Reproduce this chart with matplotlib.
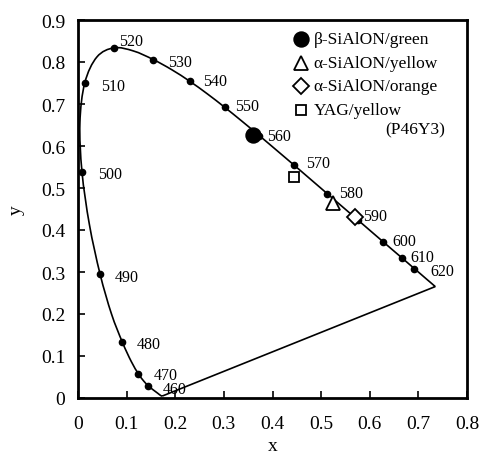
import matplotlib
matplotlib.use("Agg")
import matplotlib.pyplot as plt
import numpy as np
from matplotlib.path import Path
from matplotlib.patches import PathPatch

plt.rcParams["font.family"] = ["Liberation Serif", "DejaVu Serif"]

# CIE 1931 spectral locus (5 nm steps, 380-700 nm)
locus_nm = list(range(380, 705, 5))
locus_x = [0.1741, 0.1740, 0.1738, 0.1736, 0.1733, 0.1730, 0.1726, 0.1721, 0.1714, 0.1703,
           0.1689, 0.1669, 0.1644, 0.1611, 0.1566, 0.1510, 0.1440, 0.1355, 0.1241, 0.1096,
           0.0913, 0.0687, 0.0454, 0.0235, 0.0082, 0.0039, 0.0139, 0.0389, 0.0743, 0.1142,
           0.1547, 0.1929, 0.2296, 0.2658, 0.3016, 0.3373, 0.3731, 0.4087, 0.4441, 0.4788,
           0.5125, 0.5448, 0.5752, 0.6029, 0.6270, 0.6482, 0.6658, 0.6801, 0.6915, 0.7006,
           0.7079, 0.7140, 0.7190, 0.7230, 0.7260, 0.7283, 0.7300, 0.7311, 0.7320, 0.7327,
           0.7334, 0.7340, 0.7344, 0.7346, 0.7347]
locus_y = [0.0050, 0.0050, 0.0049, 0.0049, 0.0048, 0.0048, 0.0048, 0.0048, 0.0051, 0.0058,
           0.0069, 0.0086, 0.0109, 0.0138, 0.0177, 0.0227, 0.0297, 0.0399, 0.0578, 0.0868,
           0.1327, 0.2007, 0.2950, 0.4127, 0.5384, 0.6548, 0.7502, 0.8120, 0.8338, 0.8262,
           0.8059, 0.7816, 0.7543, 0.7243, 0.6923, 0.6589, 0.6245, 0.5896, 0.5547, 0.5202,
           0.4866, 0.4544, 0.4242, 0.3965, 0.3725, 0.3514, 0.3340, 0.3197, 0.3083, 0.2993,
           0.2920, 0.2859, 0.2809, 0.2770, 0.2740, 0.2717, 0.2700, 0.2689, 0.2680, 0.2673,
           0.2666, 0.2660, 0.2656, 0.2654, 0.2653]

marked_nm = [460, 470, 480, 490, 500, 510, 520, 530, 540, 550, 560, 570, 580, 590, 600, 610, 620]
# label offsets in pixels (dx, dy)
label_offsets = [(15, -3), (15, -1), (14, -2), (15, -3), (16, -2), (16, -3), (5, 7), (15, -2),
                 (13, 0), (10, 1), (8, 0), (12, 2), (12, 1), (5, 4), (9, 1), (9, 1), (16, -2)]

phosphor_labels = ["β-SiAlON/green", "α-SiAlON/yellow", "α-SiAlON/orange", "YAG/yellow"]
phosphor_x = [0.359, 0.525, 0.570, 0.445]
phosphor_y = [0.626, 0.465, 0.430, 0.527]


def smooth_path(xs, ys):
    # smoothed line through the points (Catmull-Rom as cubic Bezier), closed by a straight line
    pts = np.column_stack([xs, ys])
    n = len(pts)
    verts = [pts[0]]
    codes = [Path.MOVETO]
    for i in range(n - 1):
        p0 = pts[max(i - 1, 0)]
        p1 = pts[i]
        p2 = pts[i + 1]
        p3 = pts[min(i + 2, n - 1)]
        verts += [p1 + (p2 - p0) / 6, p2 - (p3 - p1) / 6, p2]
        codes += [Path.CURVE4] * 3
    verts.append(pts[0])
    codes.append(Path.LINETO)
    return Path(verts, codes)


fig = plt.figure(figsize=(4.79, 4.56), dpi=100)
ax = fig.add_axes([78 / 479, 1 - 399 / 456, 389 / 479, 378 / 456])

ax.add_patch(PathPatch(smooth_path(locus_x, locus_y), fill=False, ec="black", lw=1.2, zorder=2))

for nm, (dx, dy) in zip(marked_nm, label_offsets):
    i = locus_nm.index(nm)
    ax.plot(locus_x[i], locus_y[i], "o", color="black", ms=4.5, zorder=3)
    ax.annotate(str(nm), (locus_x[i], locus_y[i]), xytext=(dx, dy),
                textcoords="offset pixels", ha="left", va="center", fontsize=11.5)

styles = [dict(marker="o", ms=10.5, mfc="black"),
          dict(marker="^", ms=10.5, mfc="white"),
          dict(marker="D", ms=8, mfc="white"),
          dict(marker="s", ms=6.5, mfc="white")]
for px, py, st in zip(phosphor_x, phosphor_y, styles):
    ax.plot(px, py, linestyle="none", mec="black", mew=1.3, zorder=4, **st)

# legend, laid out by hand
leg_rows = [0.950, 0.886, 0.825, 0.762]
for lab, ly, st in zip(phosphor_labels, leg_rows, styles):
    ax.plot(0.572, ly, linestyle="none", mec="black", mew=1.3, transform=ax.transAxes,
            clip_on=False, **st)
    ax.text(0.606, ly, lab, transform=ax.transAxes, ha="left", va="center", fontsize=12.5)
ax.text(0.945, 0.710, "(P46Y3)", transform=ax.transAxes, ha="right", va="center", fontsize=12.5)

ax.set_xlim(0, 0.8)
ax.set_ylim(0, 0.9)
ax.set_xticks([0, 0.1, 0.2, 0.3, 0.4, 0.5, 0.6, 0.7, 0.8])
ax.set_xticklabels(["0", "0.1", "0.2", "0.3", "0.4", "0.5", "0.6", "0.7", "0.8"])
ax.set_yticks([0, 0.1, 0.2, 0.3, 0.4, 0.5, 0.6, 0.7, 0.8, 0.9])
ax.set_yticklabels(["0", "0.1", "0.2", "0.3", "0.4", "0.5", "0.6", "0.7", "0.8", "0.9"])
ax.tick_params(axis="x", direction="in", length=5, width=1.2, pad=12, labelsize=14)
ax.tick_params(axis="y", direction="in", length=5, width=1.2, pad=9, labelsize=14)
for s in ax.spines.values():
    s.set_linewidth(2.0)

ax.set_xlabel("x", fontsize=14, labelpad=4)
ax.set_ylabel("y", fontsize=14, labelpad=12)

fig.savefig("out.png", dpi=100)
